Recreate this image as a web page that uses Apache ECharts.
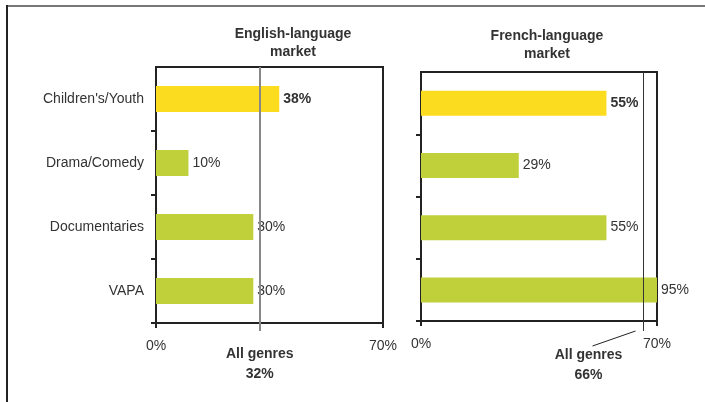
<!DOCTYPE html>
<html>
<head>
<meta charset="utf-8">
<script src="https://cdn.jsdelivr.net/npm/echarts@6/dist/echarts.min.js"></script>
<style>
  html, body { margin: 0; padding: 0; background: #fff; }
  #main { width: 705px; height: 402px; }
</style>
</head>
<body>
<div id="main"></div>
<script>
var categories = ["Children's/Youth", 'Drama/Comedy', 'Documentaries', 'VAPA'];
var englishValues = [38, 10, 30, 30];
var frenchValues = [55, 29, 55, 95];
var englishAllGenres = 32;
var frenchAllGenres = 66;
var axisMin = 0;
var axisMax = 70;

var FONT = 'Liberation Sans, Arial, sans-serif';
var YELLOW = '#fcdc1e';
var GREEN = '#bfd03a';
var DARK = '#222';
var TEXT = '#333';

function barItems(values) {
	return values.map(function(v, i) {
		return {
			value: v,
			itemStyle: { color: i === 0 ? YELLOW : GREEN },
			label: { fontWeight: i === 0 ? 'bold' : 'normal' }
		};
	});
}

function valueAxis(gridIndex, hidden) {
	return {
		type: 'value',
		gridIndex: gridIndex,
		show: !hidden,
		min: axisMin,
		max: axisMax,
		interval: axisMax - axisMin,
		splitLine: { show: false },
		axisLine: { show: true, lineStyle: { color: DARK, width: 2 } },
		axisTick: { show: true, length: 5, lineStyle: { color: DARK, width: 2 } },
		axisLabel: {
			formatter: '{value}%',
			margin: 16,
			color: TEXT,
			fontSize: 14,
			fontFamily: FONT
		}
	};
}

function catAxis(gridIndex, showLabels) {
	return {
		type: 'category',
		gridIndex: gridIndex,
		data: categories,
		inverse: true,
		axisLine: { show: true, lineStyle: { color: DARK, width: 2 } },
		axisTick: {
			show: true,
			length: 5,
			// no tick on the top edge of the panel
			interval: function(i) { return i !== 0; },
			lineStyle: { color: DARK, width: 2 }
		},
		axisLabel: {
			show: showLabels,
			interval: 0,
			margin: 12,
			color: TEXT,
			fontSize: 14,
			fontFamily: FONT
		}
	};
}

function refLine(xIdx, yIdx, value, style) {
	return {
		type: 'line',
		xAxisIndex: xIdx,
		yAxisIndex: yIdx,
		data: [[value, 0]],
		showSymbol: false,
		silent: true,
		markLine: {
			silent: true,
			symbol: 'none',
			label: { show: false },
			lineStyle: style,
			data: [{ xAxis: value }]
		}
	};
}

var barLabel = {
	show: true,
	position: 'right',
	distance: 4,
	formatter: '{c}%',
	color: TEXT,
	fontSize: 14,
	fontFamily: FONT
};

var option = {
	backgroundColor: '#fff',
	animation: false,
	title: [{
		text: 'English-language\nmarket',
		left: 288,
		top: 20,
		textAlign: 'center',
		textStyle: { fontSize: 14, fontWeight: 'bold', color: TEXT, fontFamily: FONT, lineHeight: 18 }
	}, {
		text: 'French-language\nmarket',
		left: 542,
		top: 22,
		textAlign: 'center',
		textStyle: { fontSize: 14, fontWeight: 'bold', color: TEXT, fontFamily: FONT, lineHeight: 18 }
	}],
	grid: [
		{ left: 156, top: 67, width: 227, height: 256, show: true, borderColor: DARK, borderWidth: 2 },
		{ left: 421, top: 72, width: 236, height: 249, show: true, borderColor: DARK, borderWidth: 2 },
		// same width as the panels but reaching a little below the axis, for the "All genres" lines
		{ left: 156, top: 67, width: 227, height: 264 },
		{ left: 421, top: 72, width: 236, height: 259 }
	],
	xAxis: [
		valueAxis(0, false),
		valueAxis(1, false),
		valueAxis(2, true),
		valueAxis(3, true)
	],
	yAxis: [
		catAxis(0, true),
		catAxis(1, false),
		{ type: 'value', gridIndex: 2, show: false },
		{ type: 'value', gridIndex: 3, show: false }
	],
	series: [{
		type: 'bar',
		xAxisIndex: 0,
		yAxisIndex: 0,
		barWidth: 26,
		clip: true,
		label: barLabel,
		data: barItems(englishValues)
	}, {
		type: 'bar',
		xAxisIndex: 1,
		yAxisIndex: 1,
		barWidth: 25,
		clip: true,
		label: barLabel,
		data: barItems(frenchValues)
	},
	refLine(2, 2, englishAllGenres, { color: '#888', width: 2, type: 'solid' }),
	refLine(3, 3, frenchAllGenres, { color: TEXT, width: 1, type: 'solid' })
	]
};

var chart = echarts.init(document.getElementById('main'), null, { renderer: 'canvas' });
chart.setOption(option);

// annotation texts placed from the reference-line positions
var enX = chart.convertToPixel({ xAxisIndex: 0 }, englishAllGenres);
var frX = chart.convertToPixel({ xAxisIndex: 1 }, frenchAllGenres);
var noteStyle = { fontSize: 14, fontWeight: 'bold', fill: TEXT, fontFamily: FONT, align: 'center', lineHeight: 20 };

chart.setOption({
	graphic: [
		// outer frame
		{ type: 'line', shape: { x1: 7, y1: 6, x2: 705, y2: 6 }, style: { stroke: '#777', lineWidth: 2 } },
		{ type: 'line', shape: { x1: 7, y1: 5, x2: 7, y2: 402 }, style: { stroke: DARK, lineWidth: 2 } },
		{ type: 'text', x: enX, y: 344, style: Object.assign({ text: 'All genres\n' + englishAllGenres + '%' }, noteStyle) },
		{ type: 'text', x: frX - 55, y: 345, style: Object.assign({ text: 'All genres\n' + frenchAllGenres + '%' }, noteStyle) },
		{ type: 'line', shape: { x1: frX - 8, y1: 331, x2: frX - 51, y2: 346 }, style: { stroke: DARK, lineWidth: 1 } }
	]
});
</script>
</body>
</html>
